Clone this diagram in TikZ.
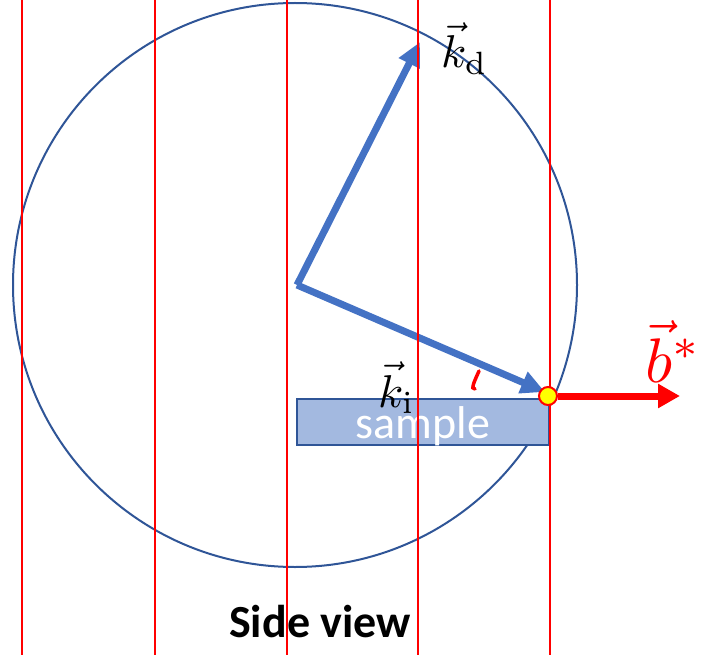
\documentclass[tikz,border=0pt]{standalone}
\usepackage{fontspec}
\setsansfont{Carlito}
\usetikzlibrary{arrows.meta}
\definecolor{circblue}{HTML}{2F5597}
\definecolor{arrblue}{HTML}{4472C4}
\definecolor{samplefill}{HTML}{A3B9E0}
\definecolor{lred}{HTML}{FF0000}
\definecolor{dotyellow}{HTML}{FFFF00}
\tikzset{
  redline/.style={draw=lred, line width=2.2pt},
  kvec/.style={draw=arrblue, line width=7pt, -{Triangle[length=24pt,width=22pt]}, shorten >=0pt},
  bvec/.style={draw=lred, line width=7pt, -{Triangle[length=22pt,width=23pt]}},
  samplebox/.style={draw=circblue, line width=2pt, fill=samplefill, inner sep=0pt},
  mathlabel/.style={inner sep=0pt, anchor=base west},
}
\begin{document}
\begin{tikzpicture}[x=1pt,y=-1pt]
\useasboundingbox (0,0) rectangle (712,655);
% circle
\draw[circblue, line width=2pt] (295,285) circle (282);
% sample
\node[samplebox, minimum width=252pt, minimum height=46pt] (sample) at (423,422) {};
\node[text=white, font=\sffamily\fontsize{46}{50}\selectfont, inner sep=0pt, anchor=base] (sampletext) at (423,438) {sample};
% vectors
\coordinate (o) at (297,285);
\coordinate (kd) at (420,42);
\coordinate (ki) at (545,392);
\draw[kvec] (o) -- (kd);
\draw[kvec] (o) -- (ki);
% red lines
\foreach \x/\n in {22/a,155/b,287/c,418/d,550/e}{
  \coordinate (top\n) at (\x,0);
  \coordinate (bot\n) at (\x,655);
  \draw[redline] (top\n) -- (bot\n);
}
% b* arrow
\coordinate (bend) at (680,396);
\node[circle, draw=lred, fill=dotyellow, line width=2pt, minimum size=18pt, inner sep=0pt] (dot) at (548,396) {};
\draw[bvec] (dot.east) -- (bend);
% angle mark
\draw[lred, line width=3.5pt, line cap=round] (479,371) .. controls (475,380) and (470,390) .. (475,389);
% labels
\node[mathlabel] (kdlabel) at (441,68) {\scalebox{4.6}{$\vec{k}_{\mathrm{d}}$}};
\node[mathlabel] (kilabel) at (378,407) {\scalebox{4.6}{$\vec{k}_{\mathrm{i}}$}};
\node[mathlabel, text=lred] (blabel) at (645,382) {\scalebox{6.3}{$\vec{b}^{*}$}};
\node[font=\sffamily\bfseries\fontsize{46}{50}\selectfont, inner sep=0pt, anchor=base] (side) at (320,637) {Side view};
\end{tikzpicture}
\end{document}
